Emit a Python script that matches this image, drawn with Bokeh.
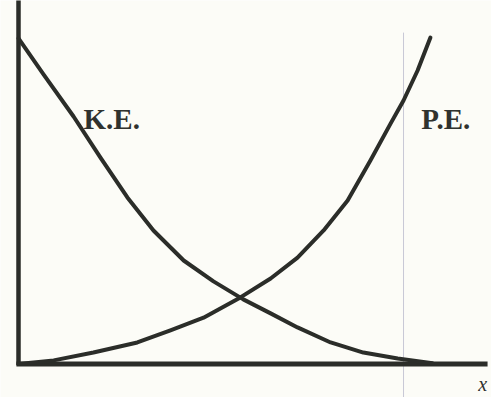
from bokeh.plotting import figure
from bokeh.embed import file_html
from bokeh.resources import INLINE
from bokeh.core.properties import value

# Displacement (normalised) and energies (normalised)
ke_x = [0.000, 0.060, 0.133, 0.198, 0.263, 0.326, 0.399, 0.471, 0.543,
        0.609, 0.674, 0.754, 0.833, 0.916, 1.000]
ke_y = [0.997, 0.888, 0.758, 0.632, 0.510, 0.409, 0.317, 0.253, 0.198,
        0.155, 0.112, 0.066, 0.035, 0.017, 0.002]

pe_x = [0.000, 0.085, 0.181, 0.287, 0.367, 0.447, 0.536, 0.609, 0.674,
        0.737, 0.795, 0.850, 0.899, 0.930, 0.964, 0.995]
pe_y = [0.000, 0.011, 0.035, 0.066, 0.103, 0.142, 0.204, 0.262, 0.326,
        0.409, 0.501, 0.623, 0.737, 0.807, 0.899, 1.000]

labels = ["K.E.", "P.E."]
axis_label = "x"

W, H = 491, 397
p = figure(width=W, height=H, output_backend="svg", toolbar_location=None,
           x_range=(-0.04348, 1.14251), y_range=(-0.10260, 1.11332),
           min_border=0, min_border_left=0, min_border_right=0,
           min_border_top=0, min_border_bottom=0)
p.axis.visible = False
p.grid.visible = False
p.outline_line_color = None
p.background_fill_color = "#fcfcf7"
p.border_fill_color = "#fcfcf7"

ink = "#2b2d29"

# faint scan line
p.segment(x0=[0.930], y0=[1.015], x1=[0.930], y1=[-0.2], line_color="#c9c9d6", line_width=1)

# axes
p.segment(x0=[0.0], y0=[-0.004], x1=[0.0], y1=[1.2], line_color=ink, line_width=4.5)
p.segment(x0=[-0.005], y0=[0.0], x1=[1.133], y1=[0.0], line_color=ink, line_width=5)

# curves
p.line(ke_x, ke_y, line_color=ink, line_width=4, line_join="round", line_cap="round")
p.line(pe_x, pe_y, line_color=ink, line_width=4, line_join="round", line_cap="round")

# labels
p.text(x=[0.157, 0.973], y=[0.749, 0.749], text=labels,
       text_font=value("Liberation Serif"), text_font_style="bold",
       text_font_size="29px", text_color="#30322e",
       text_align="left", text_baseline="alphabetic")
p.text(x=[1.132], y=[-0.060], text=[axis_label],
       text_font=value("Liberation Serif"), text_font_style="italic",
       text_font_size="20px", text_color="#30322e",
       text_align="right", text_baseline="middle")

open("out.html", "w").write(file_html(p, INLINE))
